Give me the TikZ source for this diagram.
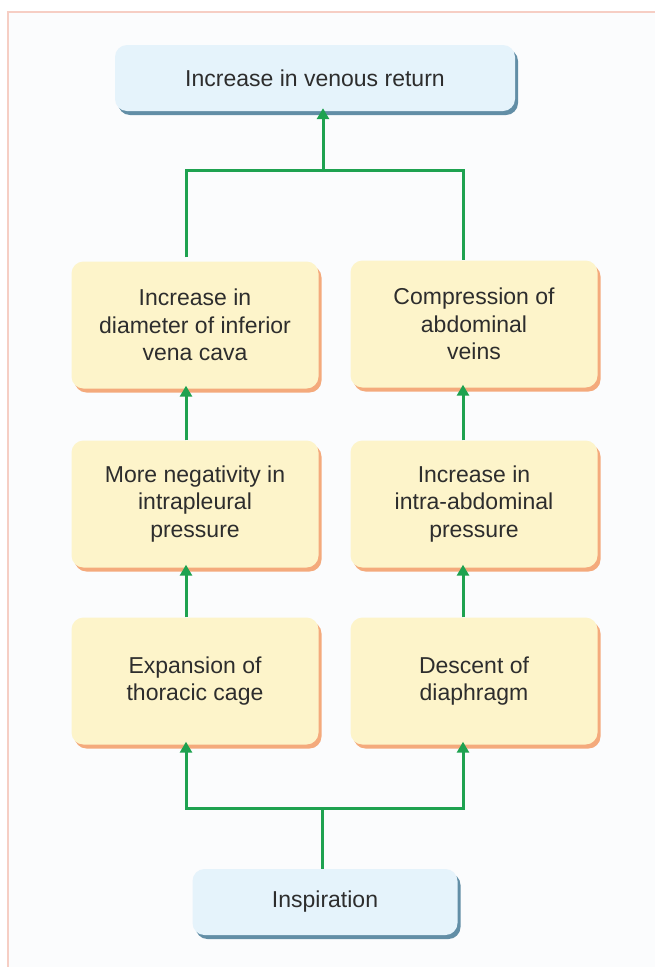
\documentclass[tikz,border=0pt]{standalone}
\usepackage{fontspec}
\setmainfont{Liberation Sans}
\usetikzlibrary{arrows.meta,shadows}
\definecolor{flowgreen}{RGB}{30,162,80}
\definecolor{boxyellow}{RGB}{253,244,202}
\definecolor{shadeorange}{RGB}{244,170,124}
\definecolor{boxblue}{RGB}{229,243,251}
\definecolor{shadeblue}{RGB}{98,142,166}
\definecolor{inktext}{RGB}{45,45,45}
\definecolor{framepink}{RGB}{246,206,196}
\definecolor{pagebg}{RGB}{251,252,253}
\tikzstyle{flowbox}=[rounded corners=12pt, align=center, text=inktext,
    inner sep=0pt, font=\fontsize{23}{27.5}\selectfont]
\tikzstyle{cause}=[flowbox, fill=boxyellow, minimum width=247pt,
    minimum height=127pt,
    drop shadow={shadow xshift=3pt,shadow yshift=-4pt,fill=shadeorange,opacity=1}]
\tikzstyle{event}=[flowbox, fill=boxblue, minimum height=66pt,
    drop shadow={shadow xshift=3pt,shadow yshift=-4pt,fill=shadeblue,opacity=1}]
\tikzstyle{link}=[draw=flowgreen, line width=3pt]
\tikzstyle{flow}=[link, -{Triangle[width=12pt,length=11pt]}, shorten >=-3pt]
\begin{document}
\begin{tikzpicture}[x=1pt,y=-1pt]
    \useasboundingbox (0,0) rectangle (655,967);
    \fill[pagebg] (8,12) rectangle (655,967);
    \draw[framepink, line width=1.5pt] (8,967) -- (8,12) -- (655,12);
    %
    \node[event, minimum width=400pt] (venous) at (315,78) {Increase in venous return};
    \node[cause] (ivc) at (195,325) {Increase in\\diameter of inferior\\vena cava};
    \node[cause] (veins) at (474,324) {Compression of\\abdominal\\veins};
    \node[cause] (pleural) at (195,504) {More negativity in\\intrapleural\\pressure};
    \node[cause] (abdomen) at (474,504) {Increase in\\intra-abdominal\\pressure};
    \node[cause] (cage) at (195,681) {Expansion of\\thoracic cage};
    \node[cause] (diaphragm) at (474,681) {Descent of\\diaphragm};
    \node[event, minimum width=265pt] (inspiration) at (325,902) {Inspiration};
    %
    \coordinate (lc) at (186,0);
    \coordinate (rc) at (463,0);
    \coordinate (topjoin) at (323,170);
    \coordinate (botjoin) at (322,808);
    %
    \draw[link, shorten <=4pt] (ivc.north -| lc) |- (topjoin) -| (veins.north -| rc);
    \draw[flow] (topjoin) -- (venous.south -| topjoin);
    \draw[flow] (pleural.north -| lc) -- (ivc.south -| lc);
    \draw[flow] (abdomen.north -| rc) -- (veins.south -| rc);
    \draw[flow] (cage.north -| lc) -- (pleural.south -| lc);
    \draw[flow] (diaphragm.north -| rc) -- (abdomen.south -| rc);
    \draw[link] (inspiration.north -| botjoin) -- (botjoin);
    \draw[flow] (botjoin) -| (cage.south -| lc);
    \draw[flow] (botjoin) -| (diaphragm.south -| rc);
\end{tikzpicture}
\end{document}
